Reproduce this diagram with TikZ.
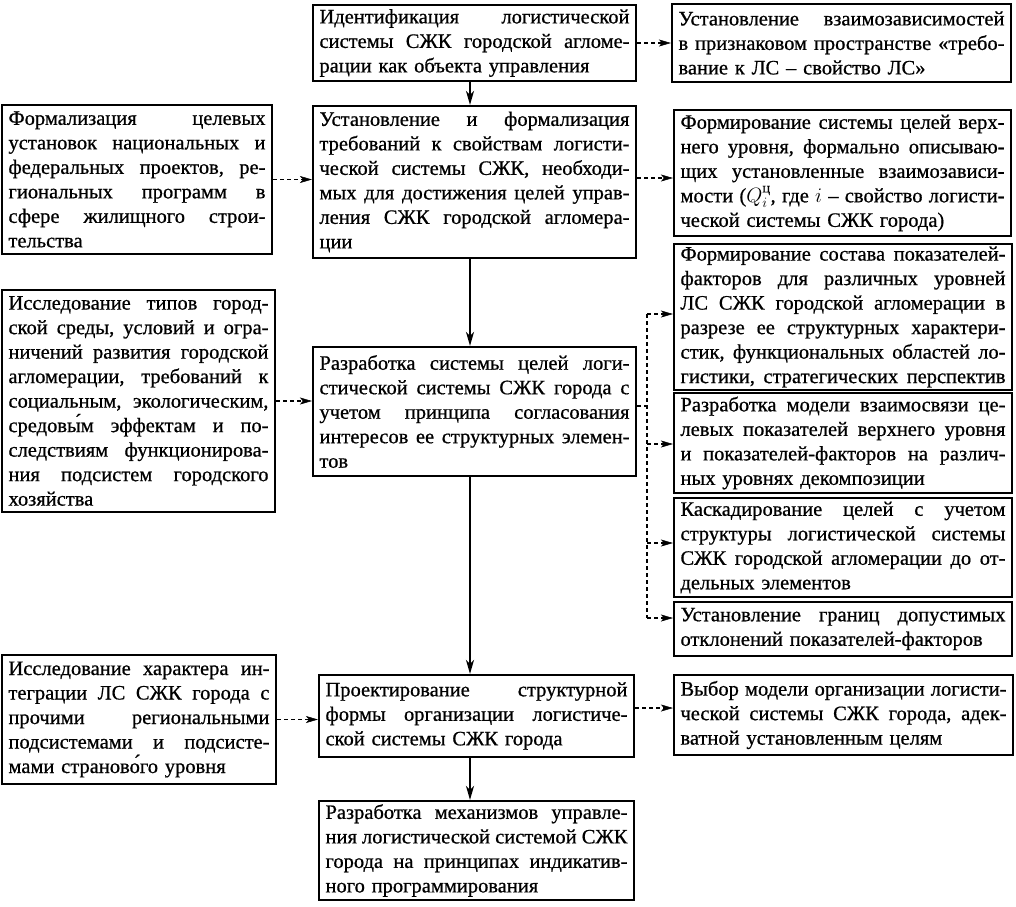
\documentclass[tikz,border=0pt]{standalone}
\usepackage{amsmath}
\usepackage{fontspec}
\setmainfont{Liberation Serif}[UprightFeatures={FakeBold=0.7}]
\usetikzlibrary{arrows.meta,calc}
\newlength\jw
\makeatletter
\def\JL#1{\noindent\hbox to\jw{\JL@a#1 \@nil}\par}
\def\JL@a#1 #2\@nil{#1\if\relax\detokenize{#2}\relax\else\hfill\JL@a#2\@nil\fi}
\makeatother
\tikzset{
  box/.style={draw, line width=2.2pt, inner xsep=6.5pt, inner ysep=0pt, align=left,
    font=\fontsize{20.5}{24.5}\selectfont},
  tw/.style={text width=#1, execute at begin node={\setlength{\jw}{#1}}},
  solidarrow/.style={line width=2pt, -{Stealth[length=14pt,width=8pt,inset=4pt]}},
  dashline/.style={line width=1.3pt, dash pattern=on 4pt off 3pt},
  dasharrow/.style={dashline, -{Stealth[length=12pt,width=7pt,inset=3pt,line width=0.5pt]}}
}
\begin{document}
\begin{tikzpicture}[x=1pt,y=-1pt]
\useasboundingbox[fill=white] (0,0) rectangle (1016,906);

% central column
\node[box, minimum width=323pt, minimum height=76pt, tw=310pt] (b1) at (474.5,43)
 {\JL{Идентификация логистической}\JL{системы СЖК городской агломе-}рации как объекта управления};
\node[box, minimum width=323pt, minimum height=152pt, tw=310pt] (b2) at (474.5,182)
 {\JL{Установление и формализация}\JL{требований к свойствам логисти-}\JL{ческой системы СЖК, необходи-}\JL{мых для достижения целей управ-}\JL{ления СЖК городской агломера-}ции};
\node[box, minimum width=323pt, minimum height=129pt, tw=310pt] (b3) at (474.5,411.5)
 {\JL{Разработка системы целей логи-}\JL{стической системы СЖК города с}\JL{учетом принципа согласования}\JL{интересов ее структурных элемен-}тов};
\node[box, minimum width=315pt, minimum height=82pt, tw=302pt] (b4) at (476.5,716)
 {\JL{Проектирование структурной}\JL{формы организации логистиче-}ской системы СЖК города};
\node[box, minimum width=315pt, minimum height=99pt, tw=302pt] (b5) at (476.5,850.5)
 {\JL{Разработка механизмов управле-}\JL{ния логистической системой СЖК}\JL{города на принципах индикатив-}ного программирования};

% left column
\node[box, minimum width=270pt, minimum height=149pt, tw=257pt] (l1) at (137,179.5)
 {\JL{Формализация целевых}\JL{установок национальных и}\JL{федеральных проектов, ре-}\JL{гиональных программ в}\JL{сфере жилищного строи-}тельства};
\node[box, minimum width=273pt, minimum height=222pt, tw=260pt] (l2) at (138.5,401)
 {\JL{Исследование типов город-}\JL{ской среды, условий и огра-}\JL{ничений развития городской}\JL{агломерации, требований к}\JL{социальным, экологическим,}\JL{средовы́м эффектам и по-}\JL{следствиям функционирова-}\JL{ния подсистем городского}хозяйства};
\node[box, minimum width=274pt, minimum height=129pt, tw=261pt] (l3) at (139,719.5)
 {\JL{Исследование характера ин-}\JL{теграции ЛС СЖК города с}\JL{прочими региональными}\JL{подсистемами и подсисте-}мами страново́го уровня};

% right column
\node[box, minimum width=339pt, minimum height=78pt, tw=326pt] (r1) at (841.5,43)
 {\JL{Установление взаимозависимостей}\JL{в признаковом пространстве «требо-}вание к ЛС – свойство ЛС»};
\node[box, minimum width=337pt, minimum height=126pt, tw=324pt] (r2) at (842.5,173)
 {\JL{Формирование системы целей верх-}\JL{него уровня, формально описываю-}\JL{щих установленные взаимозависи-}\JL{мости ($Q_i^{\text{ц}}$, где $i$ – свойство логисти-}ческой системы СЖК города)};
\node[box, minimum width=338pt, minimum height=146pt, tw=325pt] (r3) at (843,317)
 {\JL{Формирование состава показателей-}\JL{факторов для различных уровней}\JL{ЛС СЖК городской агломерации в}\JL{разрезе ее структурных характери-}\JL{стик, функциональных областей ло-}\JL{гистики, стратегических перспектив}};
\node[box, minimum width=338pt, minimum height=100pt, tw=325pt] (r4) at (843,443)
 {\JL{Разработка модели взаимосвязи це-}\JL{левых показателей верхнего уровня}\JL{и показателей-факторов на различ-}ных уровнях декомпозиции};
\node[box, minimum width=338pt, minimum height=99pt, tw=325pt] (r5) at (843,547.5)
 {\JL{Каскадирование целей с учетом}\JL{структуры логистической системы}\JL{СЖК городской агломерации до от-}дельных элементов};
\node[box, minimum width=338pt, minimum height=54pt, tw=325pt] (r6) at (843,629)
 {\JL{Установление границ допустимых}отклонений показателей-факторов};
\node[box, minimum width=339pt, minimum height=80pt, tw=326pt] (r7) at (843.5,715)
 {\JL{Выбор модели организации логисти-}\JL{ческой системы СЖК города, адек-}ватной установленным целям};

% helper coordinates
\coordinate (sp) at (470,0);
\coordinate (a2) at (0,178);
\coordinate (a4) at (0,708);
\coordinate (k3) at (647,314);
\coordinate (k4) at (647,444);
\coordinate (k5) at (647,543);
\coordinate (k6) at (647,618);
\coordinate (ks) at (647,406);

% solid arrows
\draw[solidarrow] (b1.south -| sp) -- (b2.north -| sp);
\draw[solidarrow] (b2.south -| sp) -- (b3.north -| sp);
\draw[solidarrow] (b3.south -| sp) -- (b4.north -| sp);
\draw[solidarrow] (b4.south -| sp) -- (b5.north -| sp);

% dashed arrows
\draw[dasharrow] (b1.east) -- (b1.east -| r1.west);
\draw[dasharrow] (l1.east) -- (l1.east -| b2.west);
\draw[dasharrow] (b2.east |- a2) -- (r2.west |- a2);
\draw[dasharrow] (l2.east) -- (l2.east -| b3.west);
\draw[dasharrow] (l3.east) -- (l3.east -| b4.west);
\draw[dasharrow] (b4.east |- a4) -- (r7.west |- a4);

\draw[dashline] (k3) -- (k6);
\draw[dashline] (b3.east |- ks) -- (ks);
\draw[dasharrow] (k3) -- (k3 -| r3.west);
\draw[dasharrow] (k4) -- (k4 -| r4.west);
\draw[dasharrow] (k5) -- (k5 -| r5.west);
\draw[dasharrow] (k6) -- (k6 -| r6.west);
\end{tikzpicture}
\end{document}
